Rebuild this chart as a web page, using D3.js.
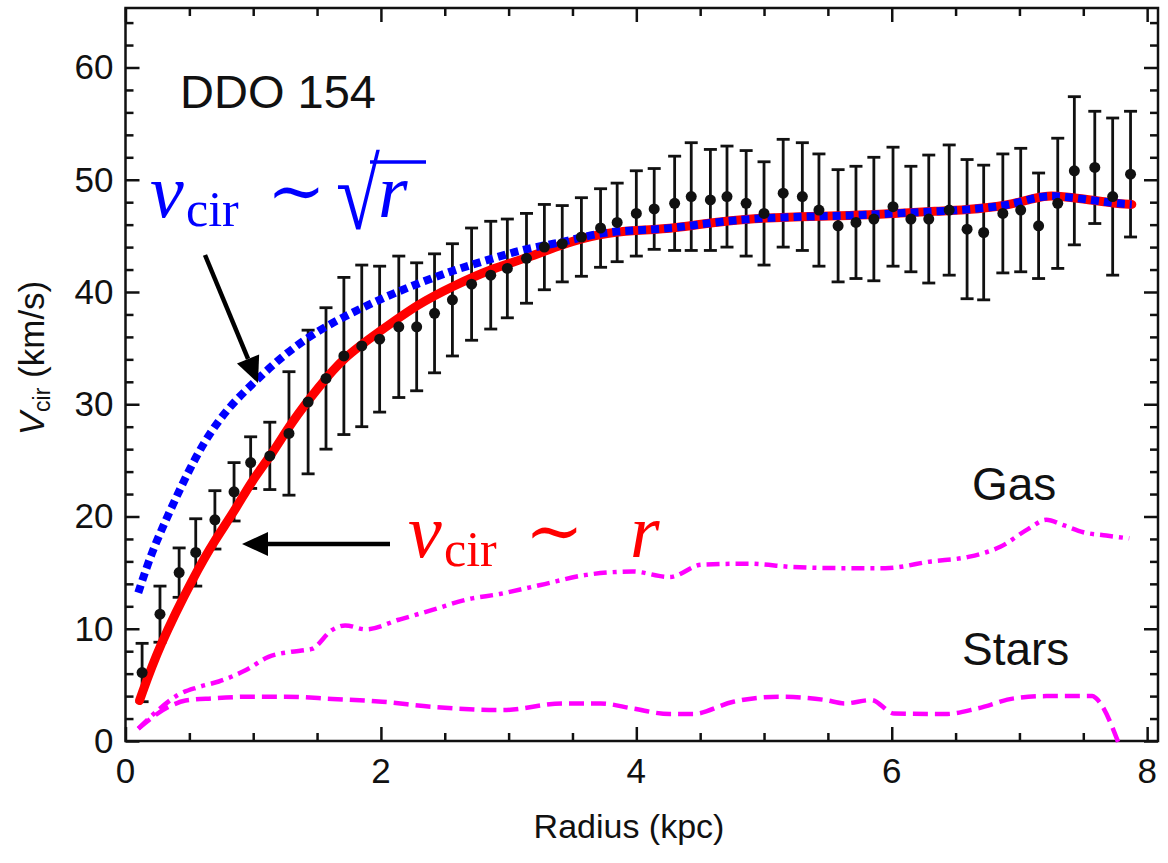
<!DOCTYPE html>
<html>
<head>
<meta charset="utf-8">
<script src="https://cdn.jsdelivr.net/npm/d3@7"></script>
<style>
  body { margin: 0; background: #fff; }
  svg { display: block; }
  .tick-label { font-family: "Liberation Sans", Arial, sans-serif; font-size: 35px; fill: #111; }
  .math { font-family: "Liberation Serif", "DejaVu Serif", serif; }
</style>
</head>
<body>
<svg id="chart" width="1168" height="863"></svg>
<script>
// observed rotation curve of DDO 154
const radius = [0.13, 0.27, 0.42, 0.55, 0.70, 0.85, 0.98, 1.13, 1.28, 1.43, 1.57, 1.71, 1.85, 1.99,
  2.14, 2.28, 2.42, 2.56, 2.71, 2.86, 2.99, 3.14, 3.28, 3.42, 3.57, 3.72, 3.85, 4.00, 4.14, 4.30,
  4.43, 4.58, 4.71, 4.86, 5.00, 5.15, 5.30, 5.43, 5.58, 5.72, 5.86, 6.01, 6.15, 6.29, 6.45, 6.59,
  6.72, 6.87, 7.01, 7.15, 7.30, 7.43, 7.59, 7.73, 7.87];
const v_obs = [6.1, 11.3, 15.0, 16.8, 19.7, 22.2, 24.8, 25.4, 27.4, 30.2, 32.3, 34.3, 35.2, 35.8,
  36.9, 36.9, 38.1, 39.3, 40.7, 41.5, 42.1, 43.0, 44.0, 44.3, 44.9, 45.7, 46.2, 47.0, 47.4, 47.9,
  48.5, 48.2, 48.5, 47.9, 47.0, 48.8, 48.5, 47.3, 45.9, 46.2, 46.5, 47.6, 46.5, 46.5, 47.3, 45.6,
  45.3, 47.0, 47.3, 45.9, 47.9, 50.8, 51.1, 48.5, 50.5];
const v_err = [2.6, 2.5, 2.2, 3.0, 2.6, 2.6, 2.3, 3.0, 5.5, 6.4, 6.3, 7.0, 7.2, 6.5,
  6.3, 5.7, 5.3, 5.0, 5.0, 4.8, 4.4, 4.0, 3.8, 3.4, 3.5, 3.5, 3.5, 3.8, 3.6, 4.2,
  4.8, 4.5, 4.5, 4.7, 4.6, 4.8, 4.8, 5.0, 5.0, 5.0, 5.5, 5.3, 4.7, 5.7, 5.8, 6.2,
  6.0, 5.3, 5.5, 4.7, 5.8, 6.6, 5.0, 7.0, 5.6];

// fit with v ~ r at the centre (red, solid)
const linear_r = [0.11, 0.26, 0.545, 0.70, 0.86, 0.99, 1.15, 1.30, 1.51, 1.71, 1.98, 2.30, 2.56,
  2.87, 3.14, 3.43, 3.71, 4.00, 4.29, 4.71, 5.18, 5.70, 6.02, 6.36, 6.57, 6.91, 7.09, 7.22, 7.35,
  7.56, 7.74, 7.88];
const linear_v = [3.6, 8.4, 14.9, 17.9, 20.6, 23.2, 25.6, 28.4, 31.5, 34.2, 36.4, 39.0, 40.5,
  42.1, 43.0, 44.3, 45.2, 45.5, 45.65, 46.4, 46.7, 46.8, 47.0, 47.2, 47.3, 47.7, 48.3, 48.6, 48.5,
  48.2, 47.9, 47.8];

// fit with v ~ sqrt(r) at the centre (blue, dashed)
const sqrt_r = [0.10, 0.20, 0.34, 0.47, 0.62, 0.81, 1.02, 1.25, 1.51, 1.78, 2.04, 2.30, 2.56,
  2.82, 3.14, 3.42, 3.71, 4.00, 4.29, 4.71, 5.18, 5.70, 6.02, 6.36, 6.57, 6.91, 7.09, 7.22, 7.35,
  7.56, 7.74, 7.88];
const sqrt_v = [13.2, 16.7, 20.3, 23.5, 26.8, 29.8, 32.1, 34.5, 36.6, 38.2, 39.6, 40.8, 41.9,
  42.8, 43.9, 44.4, 45.3, 45.5, 45.65, 46.4, 46.7, 46.8, 47.0, 47.2, 47.3, 47.7, 48.3, 48.6, 48.5,
  48.2, 47.9, 47.8];

// baryonic components
const gas_r = [0.10, 0.26, 0.41, 0.57, 0.73, 0.94, 1.12, 1.30, 1.41, 1.46, 1.62, 1.72, 1.88,
  2.14, 2.41, 2.67, 2.93, 3.25, 3.61, 3.97, 4.26, 4.51, 4.87, 5.23, 5.59, 5.95, 6.31, 6.60, 6.85,
  7.07, 7.21, 7.35, 7.50, 7.68, 7.86];
const gas_v = [1.1, 2.8, 4.1, 4.8, 5.3, 6.3, 7.5, 7.95, 8.1, 8.2, 9.9, 10.3, 9.95,
  10.8, 11.7, 12.6, 13.1, 13.9, 14.8, 15.1, 14.6, 15.7, 15.8, 15.5, 15.4, 15.4, 16.0, 16.4, 17.3,
  18.9, 19.7, 19.2, 18.6, 18.3, 18.05];
const stars_r = [0.10, 0.34, 0.47, 0.68, 0.99, 1.25, 1.62, 2.01, 2.40, 2.95, 3.43, 3.72, 3.97,
  4.26, 4.44, 4.76, 5.12, 5.48, 5.63, 5.84, 6.02, 6.42, 6.67, 6.96, 7.21, 7.57, 7.60, 7.78];
const stars_v = [1.1, 3.05, 3.6, 3.8, 3.95, 3.95, 3.75, 3.5, 3.05, 2.75, 3.35, 3.35, 2.9,
  2.4, 2.4, 3.5, 3.95, 3.65, 3.35, 3.65, 2.45, 2.4, 2.9, 3.8, 4.0, 4.0, 3.8, -0.3];

const x_ticks = [0, 2, 4, 6, 8];
const y_ticks = [0, 10, 20, 30, 40, 50, 60];

const svg = d3.select("#chart");
const plot_left = 125.5, plot_right = 1158, plot_top = 8, plot_bottom = 741;

let x = d3.scaleLinear().domain([0, 8.085]).range([plot_left, plot_right]);
let y = d3.scaleLinear().domain([0, 65.3]).range([plot_bottom, plot_top]);

// frame ticks, pointing inwards on all four sides
let x_minor = d3.range(0, 8.01, 0.5).filter((d) => d % 2 !== 0);
let y_minor = d3.range(0, 65, 2).filter((d) => d % 10 !== 0);

function draw_ticks(g) {
  g.selectAll("path.domain").remove();
  g.selectAll("line").attr("stroke", "#111").attr("stroke-width", 2.5);
}

svg.append("g").attr("transform", `translate(0,${plot_bottom})`)
  .call(d3.axisBottom(x).tickValues(x_ticks).tickSize(-14).tickFormat(""))
  .call(draw_ticks);
svg.append("g").attr("transform", `translate(0,${plot_bottom})`)
  .call(d3.axisBottom(x).tickValues(x_minor).tickSize(-8).tickFormat(""))
  .call(draw_ticks);
svg.append("g").attr("transform", `translate(0,${plot_top})`)
  .call(d3.axisTop(x).tickValues(x_ticks).tickSize(-14).tickFormat(""))
  .call(draw_ticks);
svg.append("g").attr("transform", `translate(0,${plot_top})`)
  .call(d3.axisTop(x).tickValues(x_minor).tickSize(-8).tickFormat(""))
  .call(draw_ticks);
svg.append("g").attr("transform", `translate(${plot_left},0)`)
  .call(d3.axisLeft(y).tickValues(y_ticks).tickSize(-14).tickFormat(""))
  .call(draw_ticks);
svg.append("g").attr("transform", `translate(${plot_left},0)`)
  .call(d3.axisLeft(y).tickValues(y_minor).tickSize(-8).tickFormat(""))
  .call(draw_ticks);
svg.append("g").attr("transform", `translate(${plot_right},0)`)
  .call(d3.axisRight(y).tickValues(y_ticks).tickSize(-14).tickFormat(""))
  .call(draw_ticks);
svg.append("g").attr("transform", `translate(${plot_right},0)`)
  .call(d3.axisRight(y).tickValues(y_minor).tickSize(-8).tickFormat(""))
  .call(draw_ticks);

// tick labels
svg.append("g").selectAll("text").data(x_ticks).join("text")
  .attr("class", "tick-label")
  .attr("x", (d) => x(d)).attr("y", plot_bottom + 42)
  .attr("text-anchor", "middle")
  .text((d) => d);
svg.append("g").selectAll("text").data(y_ticks).join("text")
  .attr("class", "tick-label")
  .attr("x", plot_left - 12).attr("y", (d) => y(d) + 12)
  .attr("text-anchor", "end")
  .text((d) => d);

// frame
svg.append("rect")
  .attr("x", plot_left).attr("y", plot_top)
  .attr("width", plot_right - plot_left).attr("height", plot_bottom - plot_top)
  .attr("fill", "none").attr("stroke", "#111").attr("stroke-width", 2.5);

// axis titles
svg.append("text")
  .attr("class", "tick-label")
  .attr("x", 629).attr("y", 838)
  .attr("text-anchor", "middle")
  .style("font-size", "34px")
  .text("Radius (kpc)");
let ylab = svg.append("text")
  .attr("class", "tick-label")
  .attr("transform", "translate(44,358) rotate(-90)")
  .attr("text-anchor", "middle")
  .style("font-size", "35px");
ylab.append("tspan").style("font-style", "italic").text("V");
ylab.append("tspan").attr("dy", 6).style("font-size", "23px").text("cir");
ylab.append("tspan").attr("dy", -6).text(" (km/s)");

// model curves
let pairs = (rs, vs) => rs.map((r, i) => [r, vs[i]]);
let smooth = d3.line().x((d) => x(d[0])).y((d) => y(d[1])).curve(d3.curveBasis);
let line = d3.line().x((d) => x(d[0])).y((d) => y(d[1])).curve(d3.curveMonotoneX);

svg.append("path").datum(pairs(gas_r, gas_v))
  .attr("d", line).attr("fill", "none")
  .attr("stroke", "#ff00ff").attr("stroke-width", 4.5)
  .attr("stroke-dasharray", "13,6,4,6");
svg.append("path").datum(pairs(stars_r, stars_v))
  .attr("d", line).attr("fill", "none")
  .attr("stroke", "#ff00ff").attr("stroke-width", 4.5)
  .attr("stroke-dasharray", "15,7");

// error bars and points
let obs = radius.map((r, i) => ({ r: r, v: v_obs[i], e: v_err[i] }));
let bars = svg.append("g").attr("stroke", "#111").attr("stroke-width", 2.8);
bars.selectAll("line.bar").data(obs).join("line").attr("class", "bar")
  .attr("x1", (d) => x(d.r)).attr("x2", (d) => x(d.r))
  .attr("y1", (d) => y(d.v - d.e)).attr("y2", (d) => y(d.v + d.e));
bars.selectAll("line.cap-top").data(obs).join("line").attr("class", "cap-top")
  .attr("x1", (d) => x(d.r) - 6.5).attr("x2", (d) => x(d.r) + 6.5)
  .attr("y1", (d) => y(d.v + d.e)).attr("y2", (d) => y(d.v + d.e));
bars.selectAll("line.cap-bottom").data(obs).join("line").attr("class", "cap-bottom")
  .attr("x1", (d) => x(d.r) - 6.5).attr("x2", (d) => x(d.r) + 6.5)
  .attr("y1", (d) => y(d.v - d.e)).attr("y2", (d) => y(d.v - d.e));

svg.append("path").datum(pairs(linear_r, linear_v))
  .attr("d", smooth).attr("fill", "none")
  .attr("stroke", "#ff0000").attr("stroke-width", 9)
  .attr("stroke-linecap", "round");
svg.append("path").datum(pairs(sqrt_r, sqrt_v))
  .attr("d", smooth).attr("fill", "none")
  .attr("stroke", "#0000ff").attr("stroke-width", 8)
  .attr("stroke-dasharray", "8,5");

svg.append("g").selectAll("circle").data(obs).join("circle")
  .attr("cx", (d) => x(d.r)).attr("cy", (d) => y(d.v))
  .attr("r", 5.5).attr("fill", "#111");

// labels
svg.append("text").attr("class", "tick-label")
  .attr("x", 180).attr("y", 108).style("font-size", "47px")
  .text("DDO 154");
svg.append("text").attr("class", "tick-label")
  .attr("x", 972).attr("y", 500).style("font-size", "46px")
  .text("Gas");
svg.append("text").attr("class", "tick-label")
  .attr("x", 962).attr("y", 665).style("font-size", "46px")
  .text("Stars");

// annotations
function math_label(color, base_x, base_y, sqrt_root) {
  let g = svg.append("g").attr("class", "math").attr("fill", color);
  g.append("text").attr("x", base_x).attr("y", base_y)
    .style("font-size", "76px").style("font-style", "italic").text("v");
  g.append("text").attr("x", base_x + 36).attr("y", base_y + 9)
    .style("font-size", "50px").text("cir");
  g.append("text").attr("x", base_x + 117).attr("y", base_y - 2)
    .style("font-size", "70px").text("∼");
  if (sqrt_root) {
    g.append("text").attr("x", base_x + 186).attr("y", base_y + 12)
      .attr("transform", `translate(0,${base_y + 12}) scale(1,1.25) translate(0,${-(base_y + 12)})`)
      .style("font-size", "80px").text("√");
    g.append("line")
      .attr("x1", base_x + 220).attr("x2", base_x + 276)
      .attr("y1", base_y - 55).attr("y2", base_y - 55)
      .attr("stroke", color).attr("stroke-width", 3.5);
    g.append("text").attr("x", base_x + 228).attr("y", base_y)
      .style("font-size", "76px").style("font-style", "italic").text("r");
  } else {
    g.append("text").attr("x", base_x + 222).attr("y", base_y)
      .style("font-size", "76px").style("font-style", "italic").text("r");
  }
}
math_label("#0000ff", 150, 217, true);
math_label("#ff0000", 408, 557, false);

// arrows
let arrow = (x1, y1, x2, y2) => {
  let ang = Math.atan2(y2 - y1, x2 - x1);
  let len = 26, half = 12;
  let bx = x2 - len * Math.cos(ang), by = y2 - len * Math.sin(ang);
  svg.append("line")
    .attr("x1", x1).attr("y1", y1).attr("x2", bx).attr("y2", by)
    .attr("stroke", "#000").attr("stroke-width", 4.5);
  svg.append("path")
    .attr("d", `M${x2},${y2}L${bx - half * Math.sin(ang)},${by + half * Math.cos(ang)}` +
      `L${bx + half * Math.sin(ang)},${by - half * Math.cos(ang)}Z`)
    .attr("fill", "#000");
};
arrow(205, 255, 258, 383);
arrow(390, 544, 242, 544);
</script>
</body>
</html>
